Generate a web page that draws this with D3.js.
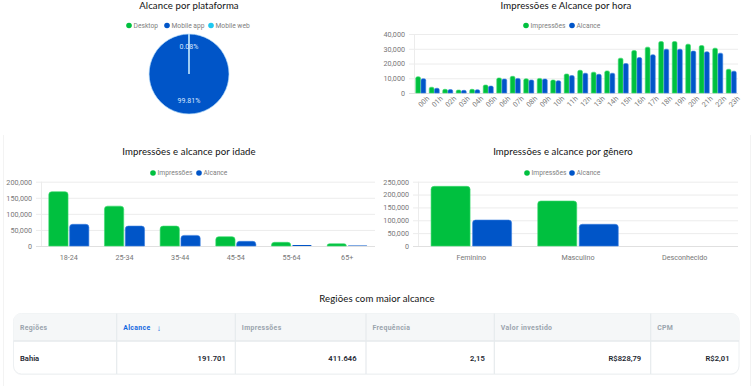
<!DOCTYPE html>
<html><head><meta charset="utf-8">
<script src="https://cdn.jsdelivr.net/npm/d3@7/dist/d3.min.js"></script>
<style>
body{margin:0;background:#fff;}
svg{display:block;}
text{font-family:Roboto,"Noto Sans",sans-serif;}
.title{font-family:Lato,"Noto Sans",sans-serif;font-size:9.6px;fill:#111;letter-spacing:0.1px;}
.tick text{fill:#777;font-size:7.2px;}
.leg{fill:#808080;font-size:6.7px;}
</style></head>
<body>
<svg id="c" width="754" height="386"></svg>
<script>
// ---- data ----
const platformLabels = ["Desktop", "Mobile app", "Mobile web"];
const platformValues = [0.11, 99.81, 0.08];

const hours = ["00h","01h","02h","03h","04h","05h","06h","07h","08h","09h","10h","11h","12h","13h","14h","15h","16h","17h","18h","19h","20h","21h","22h","23h"];
const hourImpressions = [11000,3900,2500,2000,2500,5400,10200,11300,9600,9900,8800,12900,15400,14100,15000,23600,28800,31100,34900,34900,33100,32200,30400,16100];
const hourReach = [9700,3200,2300,1800,2200,4700,9500,9900,8800,9500,8300,11800,13400,12700,13400,20000,24000,25900,29700,29700,28400,27900,27000,14800];
const hourTicks = [0,10000,20000,30000,40000];

const ageGroups = ["18-24","25-34","35-44","45-54","55-64","65+"];
const ageImpressions = [169000,124000,62000,29000,11500,7000];
const ageReach = [67500,62000,33000,14500,3000,1500];
const ageTicks = [0,50000,100000,150000,200000];

const genders = ["Feminino","Masculino","Desconhecido"];
const genderImpressions = [232000,175000,150];
const genderReach = [101000,84400,300];
const genderTicks = [0,50000,100000,150000,200000,250000];

const seriesNames = ["Impressões","Alcance"];

const tableHeaders = ["Regiões","Alcance","Impressões","Frequência","Valor investido","CPM"];
const tableRow = ["Bahia","191.701","411.646","2,15","R$828,79","R$2,01"];

// ---- styles ----
const GREEN = "#00c03f", BLUE = "#0055c8", CYAN = "#1ec8f0";
const GREEN_B = "#3ddc6e", BLUE_B = "#3b7fe0";
const svg = d3.select("#c");
svg.append("rect").attr("width",754).attr("height",386).attr("fill","#fff");

// faint card borders
svg.append("line").attr("x1",3.5).attr("x2",3.5).attr("y1",135).attr("y2",386).attr("stroke","#f3f3f3");
svg.append("line").attr("x1",750.5).attr("x2",750.5).attr("y1",135).attr("y2",386).attr("stroke","#f3f3f3");

function title(x,y,t){ svg.append("text").attr("class","title").attr("x",x).attr("y",y).attr("text-anchor","middle").text(t); }

function legend(items, y){
  const g = svg.append("g");
  items.forEach(it=>{
    g.append("circle").attr("cx",it.x).attr("cy",y).attr("r",2.8).attr("fill",it.c);
    g.append("text").attr("class","leg").attr("x",it.x+4.5).attr("y",y+2.4).text(it.t);
  });
}

function roundTop(x,y,w,h,r){
  r = Math.max(0, Math.min(r, w/2, h));
  if (h<=0) return "";
  return `M${x},${y+h}V${y+r}Q${x},${y} ${x+r},${y}H${x+w-r}Q${x+w},${y} ${x+w},${y+r}V${y+h}Z`;
}

function barChart(o){
  const x = d3.scaleBand().domain(o.cats).range([o.x0,o.x1]).paddingInner(o.pad).paddingOuter(o.pad/2);
  const xs = d3.scaleBand().domain([0,1]).range([0,x.bandwidth()]).paddingInner(o.gap);
  const y = d3.scaleLinear().domain([0,o.max]).range([o.yb,o.yt]);
  const g = svg.append("g");
  const ax = g.append("g").attr("transform",`translate(${o.x0},0)`)
    .call(d3.axisLeft(y).tickValues(o.ticks).tickFormat(d3.format(",")).tickSize(-(o.x1-o.x0)).tickPadding(9));
  ax.select(".domain").remove();
  ax.selectAll(".tick line").attr("x1",-5).attr("stroke",(d)=>d===0?"#e0e0e0":"#ececec");
  g.append("line").attr("x1",o.x0+0.5).attr("x2",o.x0+0.5).attr("y1",o.yt).attr("y2",o.yb).attr("stroke","#ececec");
  const series=[o.a,o.b], cols=[GREEN,BLUE], bcols=[GREEN_B,BLUE_B];
  series.forEach((vals,si)=>{
    g.append("g").selectAll("path").data(vals).join("path")
      .attr("d",(v,i)=>{const bx=x(o.cats[i])+xs(si), by=y(v); return roundTop(bx,by,xs.bandwidth(),o.yb-by,o.r);})
      .attr("fill",cols[si]).attr("stroke",(v)=> (o.yb-y(v))<2 ? "none" : bcols[si]).attr("stroke-width",0.6);
  });
  const xa = g.append("g").attr("transform",`translate(0,${o.yb})`)
    .call(d3.axisBottom(x).tickSize(0).tickPadding(o.rot?6:9));
  xa.select(".domain").remove();
  if (o.rot){
    xa.selectAll("text").attr("text-anchor","end").attr("dy","0.35em")
      .attr("transform","translate(3,0) rotate(-45)");
  }
}

// ---- pie ----
title(189,9,"Alcance por plataforma");
legend([{x:129,c:GREEN,t:"Desktop"},{x:167,c:BLUE,t:"Mobile app"},{x:211,c:CYAN,t:"Mobile web"}],25.5);
{
  const cx=189, cy=74, R=40;
  const pie = d3.pie().sort(null)(platformValues);
  const arc = d3.arc().innerRadius(0).outerRadius(R);
  const lab = d3.arc().innerRadius(27).outerRadius(27);
  const g = svg.append("g").attr("transform",`translate(${cx},${cy})`);
  const cols=[GREEN,BLUE,CYAN];
  g.selectAll("path").data(pie).join("path").attr("d",arc).attr("fill",(d,i)=>cols[i])
    .attr("stroke","#bfe2fa").attr("stroke-width",0.7);
  g.selectAll("text").data(pie.filter((d,i)=>i>0)).join("text")
    .attr("transform",d=>{const c=lab.centroid(d);return `translate(${c[0]},${c[1]})`;})
    .attr("text-anchor","middle").attr("dy","0.35em").attr("fill","#d6e6ff").attr("font-size",7)
    .text(d=>d.data.toFixed(2)+"%");
}

// ---- hourly ----
title(566,9,"Impressões e Alcance por hora");
legend([{x:526,c:GREEN,t:"Impressões"},{x:572,c:BLUE,t:"Alcance"}],25.5);
barChart({cats:hours,a:hourImpressions,b:hourReach,x0:414,x1:738,yt:34,yb:93,max:40000,ticks:hourTicks,pad:0.26,gap:0.1,r:1.5,rot:true});

// ---- age ----
title(189,155,"Impressões e alcance por idade");
legend([{x:153,c:GREEN,t:"Impressões"},{x:199,c:BLUE,t:"Alcance"}],173);
barChart({cats:ageGroups,a:ageImpressions,b:ageReach,x0:41,x1:375,yt:181.7,yb:246,max:200000,ticks:ageTicks,pad:0.28,gap:0.075,r:3,rot:false});

// ---- gender ----
title(563,155,"Impressões e alcance por gênero");
legend([{x:527,c:GREEN,t:"Impressões"},{x:572,c:BLUE,t:"Alcance"}],173);
barChart({cats:genders,a:genderImpressions,b:genderReach,x0:418,x1:738,yt:181.7,yb:246,max:250000,ticks:genderTicks,pad:0.245,gap:0.06,r:3,rot:false});

// ---- table ----
title(377,302,"Regiões com maior alcance");
{
  const X0=13.5, X1=739, Y0=313.5, YH=341, Y1=374;
  const colEdges=[X0,116.7,235.3,366,494.3,650.7,X1];
  const g=svg.append("g");
  g.append("rect").attr("x",X0).attr("y",Y0+1).attr("width",X1-X0).attr("height",Y1-Y0).attr("rx",8).attr("fill","#eef0f2").attr("opacity",0.6);
  g.append("rect").attr("x",X0).attr("y",Y0).attr("width",X1-X0).attr("height",Y1-Y0).attr("rx",8).attr("fill","#fff").attr("stroke","#edf0f2");
  g.append("path").attr("d",`M${X0},${YH}V${Y0+8}Q${X0},${Y0} ${X0+8},${Y0}H${X1-8}Q${X1},${Y0} ${X1},${Y0+8}V${YH}Z`).attr("fill","#f5f7f8");
  g.append("line").attr("x1",X0).attr("x2",X1).attr("y1",YH).attr("y2",YH).attr("stroke","#e6eaed").attr("stroke-width",1.5);
  colEdges.slice(1,-1).forEach(cx=>g.append("line").attr("x1",cx).attr("x2",cx).attr("y1",Y0).attr("y2",Y1).attr("stroke","#e6eaed").attr("stroke-width",1.2));
  tableHeaders.forEach((h,i)=>{
    g.append("text").attr("x",colEdges[i]+6.5).attr("y",330.3).attr("font-family","Inter,Roboto,sans-serif")
      .attr("font-size",6.9).attr("font-weight",700).attr("letter-spacing",0.35).attr("fill",i===1?"#1468e0":"#9aa4ad").text(h);
    if(i===1) g.append("text").attr("x",colEdges[i]+40).attr("y",330.6).attr("font-size",8).attr("font-weight",700).attr("fill","#1468e0").text("↓");
  });
  tableRow.forEach((v,i)=>{
    const right = i>0;
    g.append("text").attr("x",right?colEdges[i+1]-9.5:colEdges[i]+6.5).attr("y",361).attr("text-anchor",right?"end":"start")
      .attr("font-family","Inter,Roboto,sans-serif").attr("font-size",7.6).attr("font-weight",600).attr("fill","#1c2530").text(v);
  });
}
</script>
</body></html>
